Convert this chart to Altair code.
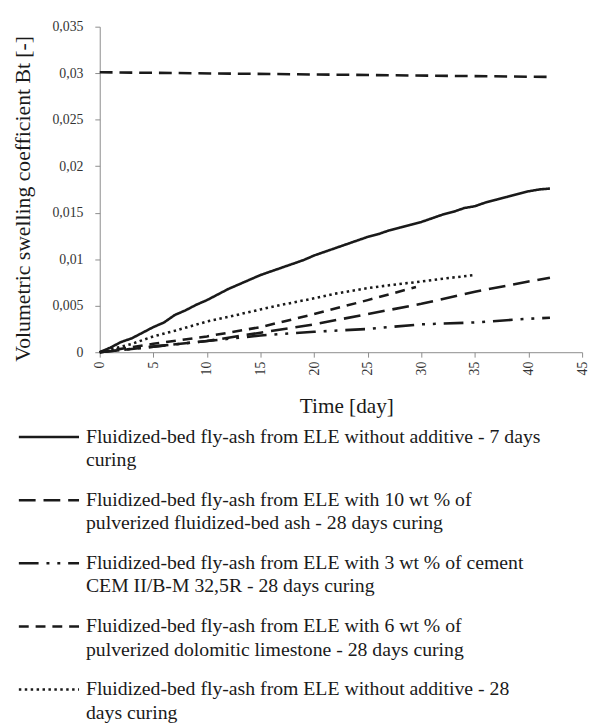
import altair as alt
import pandas as pd

# ---- data ----
s7_days = list(range(0, 43))
s7_vals = [0, 0.0005, 0.0011, 0.0015, 0.0021, 0.0027, 0.0032, 0.0040, 0.0045, 0.0051,
           0.0056, 0.0062, 0.0068, 0.0073, 0.0078, 0.0083, 0.0087, 0.0091, 0.0095, 0.0099,
           0.0104, 0.0108, 0.0112, 0.0116, 0.0120, 0.0124, 0.0127, 0.0131, 0.0134, 0.0137,
           0.0140, 0.0144, 0.0148, 0.0151, 0.0155, 0.0157, 0.0161, 0.0164, 0.0167, 0.0170,
           0.0173, 0.0175, 0.0176]

s10_days = [0, 5, 10, 15, 20, 25, 30, 35, 40, 42]
s10_vals = [0, 0.0006, 0.0012, 0.0021, 0.0030, 0.0041, 0.0052, 0.0065, 0.0076, 0.0080]

s3_days = [0, 5, 10, 15, 20, 25, 30, 35, 40, 42]
s3_vals = [0, 0.0006, 0.0012, 0.0018, 0.0022, 0.0025, 0.0030, 0.0032, 0.0036, 0.0037]

s6_days = [0, 5, 10, 15, 20, 25, 29.5]
s6_vals = [0, 0.0009, 0.0017, 0.0027, 0.0041, 0.0056, 0.0070]

s28_days = [0, 2, 3, 5, 7, 10, 12, 15, 17, 20, 22, 25, 27, 30, 32, 35]
s28_vals = [0, 0.0006, 0.0009, 0.0017, 0.0023, 0.0033, 0.0038, 0.0046, 0.0051, 0.0058,
            0.0063, 0.0069, 0.0072, 0.0076, 0.0079, 0.0083]

top_days = [0, 42]
top_vals = [0.0301, 0.0296]

series_names = ["s7", "s10", "s3", "s6", "s28", "top"]
legend_names = ["s7", "s10", "s3", "s6", "s28"]
legend_labels = [
    "Fluidized-bed fly-ash from ELE without additive - 7 days|curing",
    "Fluidized-bed fly-ash from ELE with 10 wt % of|pulverized fluidized-bed ash - 28 days curing",
    "Fluidized-bed fly-ash from ELE with 3 wt % of cement|CEM II/B-M 32,5R - 28 days curing",
    "Fluidized-bed fly-ash from ELE with 6 wt % of|pulverized dolomitic limestone - 28 days curing",
    "Fluidized-bed fly-ash from ELE without additive - 28|days curing",
]
x_ticks = [0, 5, 10, 15, 20, 25, 30, 35, 40, 45]
y_ticks = [0, 0.005, 0.01, 0.015, 0.02, 0.025, 0.03, 0.035]

# ---- build tables ----
rows = []
for name, dd, vv in [("s7", s7_days, s7_vals), ("s10", s10_days, s10_vals),
                     ("s3", s3_days, s3_vals), ("s6", s6_days, s6_vals),
                     ("s28", s28_days, s28_vals), ("top", top_days, top_vals)]:
    for d, v in zip(dd, vv):
        rows.append({"series": name, "day": d, "val": v})
df = pd.DataFrame(rows)
leg = pd.DataFrame({"idx": list(range(len(legend_names))), "series": legend_names,
                    "label": legend_labels})

dash_scale = alt.Scale(domain=series_names,
                       range=[[1, 0], [17, 8], [20, 8, 3, 8, 3, 8], [10, 7], [2.5, 3.5], [13, 7]])
width_scale = alt.Scale(domain=series_names, range=[2.6, 2.6, 2.6, 2.6, 2.6, 1.8])

FONT = "Liberation Serif, Times New Roman, serif"
INK = "#1a1a1a"
AXC = "#8c8c8c"

lines = alt.Chart(df).mark_line(color=INK).encode(
    x=alt.X("day:Q", scale=alt.Scale(domain=[0, 45], nice=False),
            axis=alt.Axis(values=x_ticks, title="Time [day]", labelAngle=-90, grid=False,
                          domainColor=AXC, tickColor=AXC, tickSize=5, labelPadding=4,
                          labelFont=FONT, labelFontSize=14, labelColor="#333",
                          titleFont=FONT, titleFontSize=21.5, titleFontWeight="normal",
                          titleColor=INK, titleX=250, titleY=55, titleBaseline="middle")),
    y=alt.Y("val:Q", scale=alt.Scale(domain=[0, 0.035], nice=False),
            axis=alt.Axis(values=y_ticks, title="Volumetric swelling coefficient Bt [-]",
                          labelExpr="replace(format(datum.value, '.3~f'), '.', ',')",
                          grid=False, domainColor=AXC, tickColor=AXC, tickSize=5,
                          labelPadding=12,
                          labelFont=FONT, labelFontSize=14, labelColor="#333",
                          titleFont=FONT, titleFontSize=22, titleFontWeight="normal",
                          titleColor=INK, titleX=-78, titleY=174, titleBaseline="middle")),
    strokeDash=alt.StrokeDash("series:N", scale=dash_scale, legend=None),
    strokeWidth=alt.StrokeWidth("series:N", scale=width_scale, legend=None),
    detail="series:N",
)

leg_y = alt.Y("idx:Q", scale=alt.Scale(domain=[0, 4], range=[416, 672], nice=False, zero=False),
              axis=None)

leg_rules = alt.Chart(leg).mark_rule(color=INK, strokeWidth=2.6).encode(
    x=alt.value(-82), x2=alt.value(-21), y=leg_y,
    strokeDash=alt.StrokeDash("series:N", scale=dash_scale, legend=None),
)

leg_text = alt.Chart(leg).mark_text(align="left", baseline="middle", dy=0, lineBreak="|",
                                    lineHeight=23.5, font=FONT, fontSize=20,
                                    color=INK).encode(
    x=alt.value(-14), y=leg_y, text="label:N",
)

chart = alt.layer(lines, leg_rules, leg_text).resolve_scale(y="independent").properties(
    width=489, height=330,
    autosize=alt.AutoSizeParams(type="none"),
    padding={"left": 93, "top": 14, "right": 8, "bottom": 375},
).configure_view(stroke=None)

chart.save("out.html", embed_options={"renderer": "svg", "actions": False})
